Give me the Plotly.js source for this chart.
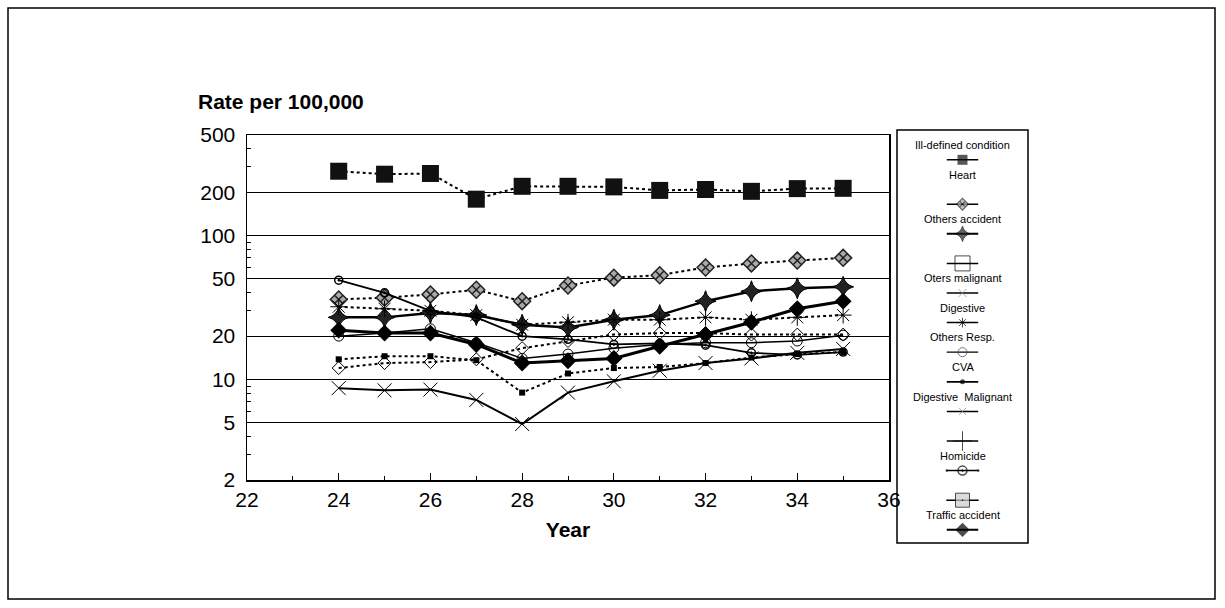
<!DOCTYPE html>
<html><head><meta charset="utf-8">
<script src="https://cdn.plot.ly/plotly-3.0.1.min.js"></script>
<style>html,body{margin:0;padding:0;background:#fff}#chart{width:1225px;height:608px}</style>
</head><body><div id="chart"></div>
<script>
// ---- data ----
const years = [24,25,26,27,28,29,30,31,32,33,34,35];
const heart = [280,267,270,179,220,220,218,206,209,203,212,213];
const othersAccident = [36,37,39,42,35,45,51,53,60,64,67,70];
const othersAccident2 = [27,27,29,28,24,23,26,28,35,41,43,44];
const othersResp = [32,31,30,28,24,25,26,26,27,26,27,28];
const homicide = [49,40,30,27,20,19,17.5,17.8,17.3,15.3,14.8,15.5];
const cva = [20,21,22.5,18,14,15,16.5,17.5,18,18,18.5,20.3];
const trafficAccident = [22,21,21,17.5,13,13.5,14,17,20.5,25,31,35];
const illDefined = [13.8,14.5,14.5,13.6,8.1,11,12,12.2,13,14.2,15,15.5];
const othersMalignant = [12,13,13.2,13.8,16.5,18.5,20.5,21,21,20.5,20.5,20.5];
const digestiveMalignant = [8.7,8.4,8.5,7.2,4.9,8.1,9.7,11.5,13,14,15.3,16.3];

const yTickVals = [2,5,10,20,50,100,200,500];
const xTickVals = [22,24,26,28,30,32,34,36];
const yTitle = 'Rate per 100,000';
const xTitle = 'Year';

const legendTexts = ['Ill-defined condition','Heart','Others accident','Oters malignant','Digestive',
  'Others Resp.','CVA','Digestive  Malignant','Homicide','Traffic accident'];
const legendTextSlots = [0,2,5,9,11,13,15,17,21,25];

// ---- layout geometry ----
const W = 1225, H = 608;
const fx = p => p / W, fy = p => 1 - p / H;
const plotL = 247, plotR = 889, plotT = 135, plotB = 480;
const legL = 897, legR = 1028, legT = 130, legB = 543;
const slot0 = 145, slotStep = 14.8;

// ---- series styles ----
const series = [
  {name:'Heart', y:heart, sym:'square', size:17, color:'#111', lc:'#111', lw:0, dash:'dot', w:2},
  {name:'Others accident', y:othersAccident, sym:'diamond-x', size:13, color:'#aaa', lc:'#222', lw:1.5, dash:'dot', w:2},
  {name:'Others accident 2', y:othersAccident2, sym:'star-diamond', size:15, color:'#222', lc:'#000', lw:1, dash:'solid', w:2.5},
  {name:'Others Resp.', y:othersResp, sym:'asterisk-open', size:14, color:'#000', lc:'#000', lw:1, dash:'dot', w:2},
  {name:'Homicide', y:homicide, sym:'circle-open-dot', size:8, color:'#000', lc:'#000', lw:1.5, dash:'solid', w:1.8},
  {name:'CVA', y:cva, sym:'circle-open', size:10, color:'#000', lc:'#000', lw:1, dash:'solid', w:1.5},
  {name:'Traffic accident', y:trafficAccident, sym:'diamond', size:13, color:'#000', lc:'#000', lw:0, dash:'solid', w:3},
  {name:'Ill-defined condition', y:illDefined, sym:'square', size:6, color:'#000', lc:'#000', lw:0, dash:'dot', w:2},
  {name:'Oters malignant', y:othersMalignant, sym:'diamond-open', size:10, color:'#000', lc:'#000', lw:1, dash:'dot', w:2},
  {name:'Digestive Malignant', y:digestiveMalignant, sym:'x-thin-open', size:14, color:'#000', lc:'#000', lw:1, dash:'solid', w:2}
];

const traces = series.map(s => ({
  x: years, y: s.y, name: s.name, type:'scatter', mode:'lines+markers', showlegend:false,
  xaxis:'x', yaxis:'y',
  line:{color:'#000', width:s.w, dash:s.dash},
  marker:{symbol:s.sym, size:s.size, color:s.color, line:{color:s.lc, width:s.lw}}
}));

// ---- custom legend glyphs (positioned by slot index) ----
const legendGlyphs = [
  {slot:1, sym:'square', size:10, color:'#111', lc:'#111', lw:0, w:1.5},
  {slot:4, sym:'diamond-x', size:9, color:'#aaa', lc:'#222', lw:1.2, w:1.5},
  {slot:6, sym:'star-diamond', size:11, color:'#222', lc:'#000', lw:1, w:2},
  {slot:8, sym:'square-open', size:15, color:'#000', lc:'#000', lw:1, w:1.5},
  {slot:10, sym:'x-thin-open', size:8, color:'#888', lc:'#888', lw:1, w:1.5},
  {slot:12, sym:'asterisk-open', size:8, color:'#000', lc:'#000', lw:1, w:1.5},
  {slot:14, sym:'circle-open', size:9, color:'#444', lc:'#444', lw:1, w:1.2},
  {slot:16, sym:'circle', size:5, color:'#000', lc:'#000', lw:0, w:1.8},
  {slot:18, sym:'x-thin-open', size:7, color:'#888', lc:'#888', lw:1, w:1.5},
  {slot:20, sym:'cross-thin-open', size:14, color:'#000', lc:'#000', lw:1, w:1.5},
  {slot:22, sym:'circle-open-dot', size:9, color:'#000', lc:'#000', lw:1.5, w:1.5},
  {slot:24, sym:'square-dot', size:14, color:'#ccc', lc:'#000', lw:1, w:1.5},
  {slot:26, sym:'diamond', size:11, color:'#000', lc:'#000', lw:0, w:2}
];
legendGlyphs.forEach(g => {
  traces.push({
    x:[0.38,0.5,0.62], y:[g.slot,g.slot,g.slot], xaxis:'x2', yaxis:'y2', type:'scatter',
    mode:'lines+markers', showlegend:false, hoverinfo:'skip',
    line:{color:'#000', width:g.w},
    marker:{symbol:g.sym, size:[0,g.size,0], color:g.color, line:{color:g.lc, width:g.lw}}
  });
});

const annotations = legendTexts.map((t,i) => ({
  text:t, xref:'x2', yref:'y2', x:0.5, y:legendTextSlots[i], showarrow:false,
  xanchor:'center', yanchor:'middle', font:{family:'Liberation Sans, Arial', size:11, color:'#000'}
}));
annotations.push({
  text:'<b>'+yTitle+'</b>', xref:'paper', yref:'paper', x:fx(196), y:fy(101),
  xanchor:'left', yanchor:'middle', showarrow:false,
  font:{family:'Liberation Sans, Arial', size:21, color:'#000'}
});

const minorY = [];
[1,10,100].forEach(d => [2,3,4,5,6,7,8,9].forEach(k => { const v=k*d; if (v>2 && v<500) minorY.push(v); }));

const slotRange = [(legB - slot0)/slotStep, (legT - slot0)/slotStep];

const layout = {
  width:W, height:H, margin:{l:0,r:0,t:0,b:0}, paper_bgcolor:'#fff', plot_bgcolor:'#fff',
  font:{family:'Liberation Sans, Arial', color:'#000'},
  showlegend:false,
  xaxis:{domain:[fx(plotL), fx(plotR)], range:[22,36], tickvals:xTickVals, ticks:'inside', ticklen:7,
    tickcolor:'#000', showline:true, linecolor:'#000', linewidth:1.5, mirror:true, showgrid:false, zeroline:false,
    tickfont:{size:21}, anchor:'y',
    minor:{tickvals:[23,25,27,29,31,33,35], ticks:'inside', ticklen:4, tickcolor:'#000', showgrid:false},
    title:{text:'<b>'+xTitle+'</b>', font:{size:21}, standoff:12}},
  yaxis:{domain:[fy(plotB), fy(plotT)], type:'log', range:[Math.log10(2), Math.log10(500)], tickvals:yTickVals,
    ticktext:yTickVals.map(String), ticks:'', showline:true, linecolor:'#000', linewidth:1.5, mirror:true,
    showgrid:true, gridcolor:'#000', gridwidth:1, zeroline:false, tickfont:{size:21}, anchor:'x',
    ticklabelstandoff:6,
    minor:{tickvals:minorY, ticks:'inside', ticklen:4, tickcolor:'#000', showgrid:false}},
  xaxis2:{domain:[fx(legL), fx(legR)], range:[0,1], visible:false, anchor:'y2', fixedrange:true},
  yaxis2:{domain:[fy(legB), fy(legT)], range:slotRange, visible:false, anchor:'x2', fixedrange:true},
  annotations:annotations,
  shapes:[
    {type:'rect', xref:'paper', yref:'paper', x0:fx(legL), x1:fx(legR), y0:fy(legB), y1:fy(legT),
      line:{color:'#000', width:1.5}},
    {type:'rect', xref:'paper', yref:'paper', x0:fx(8), x1:fx(1215), y0:fy(599), y1:fy(8),
      line:{color:'#000', width:1.5}}
  ]
};

Plotly.newPlot('chart', traces, layout, {displayModeBar:false, staticPlot:true});
</script></body></html>
